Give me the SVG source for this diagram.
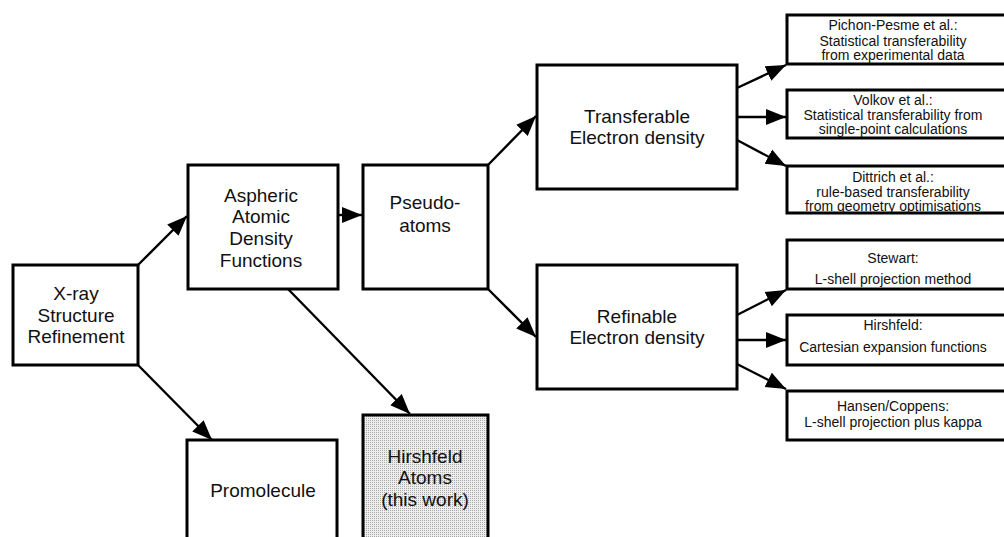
<svg xmlns="http://www.w3.org/2000/svg" width="1004" height="537" viewBox="0 0 1004 537">
<style>
.box{fill:#fff;stroke:#000;stroke-width:3}
.t{font-family:"Liberation Sans",Arial,sans-serif;font-size:19px;fill:#111;text-anchor:middle}
.s{font-family:"Liberation Sans",Arial,sans-serif;font-size:14px;fill:#111;text-anchor:middle}
.c{stroke:#000;stroke-width:2.4;fill:none;marker-end:url(#ah)}
</style>
<defs>
<marker id="ah" markerUnits="userSpaceOnUse" markerWidth="24" markerHeight="20" refX="20" refY="8" orient="auto" viewBox="0 0 24 16">
<path d="M0,0 L20,8 L0,16 Z" fill="#000"/>
</marker>
<pattern id="dots" width="2" height="2" patternUnits="userSpaceOnUse">
<rect width="2" height="2" fill="#eeeeee"/>
<rect width="1" height="1" fill="#a8a8a8"/>
</pattern>
</defs>
<rect width="1004" height="537" fill="#fff"/>
<g id="connectors">
<line class="c" x1="138" y1="265" x2="187" y2="216"/>
<line class="c" x1="138" y1="365" x2="212" y2="440"/>
<line class="c" x1="338" y1="215" x2="362" y2="215"/>
<line class="c" x1="288" y1="289" x2="410" y2="414"/>
<line class="c" x1="488" y1="165" x2="536" y2="116"/>
<line class="c" x1="488" y1="289" x2="536" y2="337"/>
<line class="c" x1="737" y1="88" x2="786" y2="65"/>
<line class="c" x1="737" y1="117" x2="786" y2="117"/>
<line class="c" x1="737" y1="140" x2="786" y2="166"/>
<line class="c" x1="737" y1="315" x2="786" y2="290"/>
<line class="c" x1="737" y1="340" x2="786" y2="340"/>
<line class="c" x1="737" y1="364" x2="786" y2="389"/>
</g>
<g id="xray">
<rect class="box" x="13" y="265" width="125" height="100"/>
<text class="t" x="76" y="300">X-ray</text>
<text class="t" x="76" y="322">Structure</text>
<text class="t" x="76" y="343">Refinement</text>
</g>
<g id="aspheric">
<rect class="box" x="188" y="165" width="150" height="124"/>
<text class="t" x="261" y="202">Aspheric</text>
<text class="t" x="261" y="223">Atomic</text>
<text class="t" x="261" y="245">Density</text>
<text class="t" x="261" y="267">Functions</text>
</g>
<g id="pseudo">
<rect class="box" x="363" y="165" width="125" height="124"/>
<text class="t" x="425" y="209">Pseudo-</text>
<text class="t" x="425" y="232">atoms</text>
</g>
<g id="promolecule">
<rect class="box" x="187" y="440" width="150" height="110"/>
<text class="t" x="263" y="497">Promolecule</text>
</g>
<g id="hirshfeldatoms">
<rect x="363" y="415" width="125" height="135" fill="url(#dots)" stroke="#000" stroke-width="3"/>
<text class="t" x="425" y="463">Hirshfeld</text>
<text class="t" x="425" y="484">Atoms</text>
<text class="t" x="425" y="506">(this work)</text>
</g>
<g id="transferable">
<rect class="box" x="537" y="65" width="200" height="124"/>
<text class="t" x="637" y="123">Transferable</text>
<text class="t" x="637" y="144">Electron density</text>
</g>
<g id="refinable">
<rect class="box" x="537" y="265" width="200" height="124"/>
<text class="t" x="637" y="323">Refinable</text>
<text class="t" x="637" y="344">Electron density</text>
</g>
<g id="pichon">
<rect class="box" x="787" y="15" width="225" height="49"/>
<text class="s" x="893" y="30">Pichon-Pesme et al.:</text>
<text class="s" x="893" y="45.5">Statistical transferability</text>
<text class="s" x="893" y="60">from experimental data</text>
</g>
<g id="volkov">
<rect class="box" x="787" y="90" width="225" height="48"/>
<text class="s" x="893" y="105">Volkov et al.:</text>
<text class="s" x="893" y="120">Statistical transferability from</text>
<text class="s" x="893" y="134">single-point calculations</text>
</g>
<g id="dittrich">
<rect class="box" x="787" y="166" width="225" height="47"/>
<text class="s" x="893" y="181.5">Dittrich et al.:</text>
<text class="s" x="893" y="196.5">rule-based transferability</text>
<text class="s" x="893" y="210.5">from geometry optimisations</text>
</g>
<g id="stewart">
<rect class="box" x="787" y="240" width="225" height="49"/>
<text class="s" x="893" y="263">Stewart:</text>
<text class="s" x="893" y="284">L-shell projection method</text>
</g>
<g id="hirshfeld">
<rect class="box" x="787" y="315" width="225" height="50"/>
<text class="s" x="893" y="330">Hirshfeld:</text>
<text class="s" x="893" y="352">Cartesian expansion functions</text>
</g>
<g id="hansen">
<rect class="box" x="787" y="391" width="225" height="49"/>
<text class="s" x="893" y="411">Hansen/Coppens:</text>
<text class="s" x="893" y="427">L-shell projection plus kappa</text>
</g>
</svg>
